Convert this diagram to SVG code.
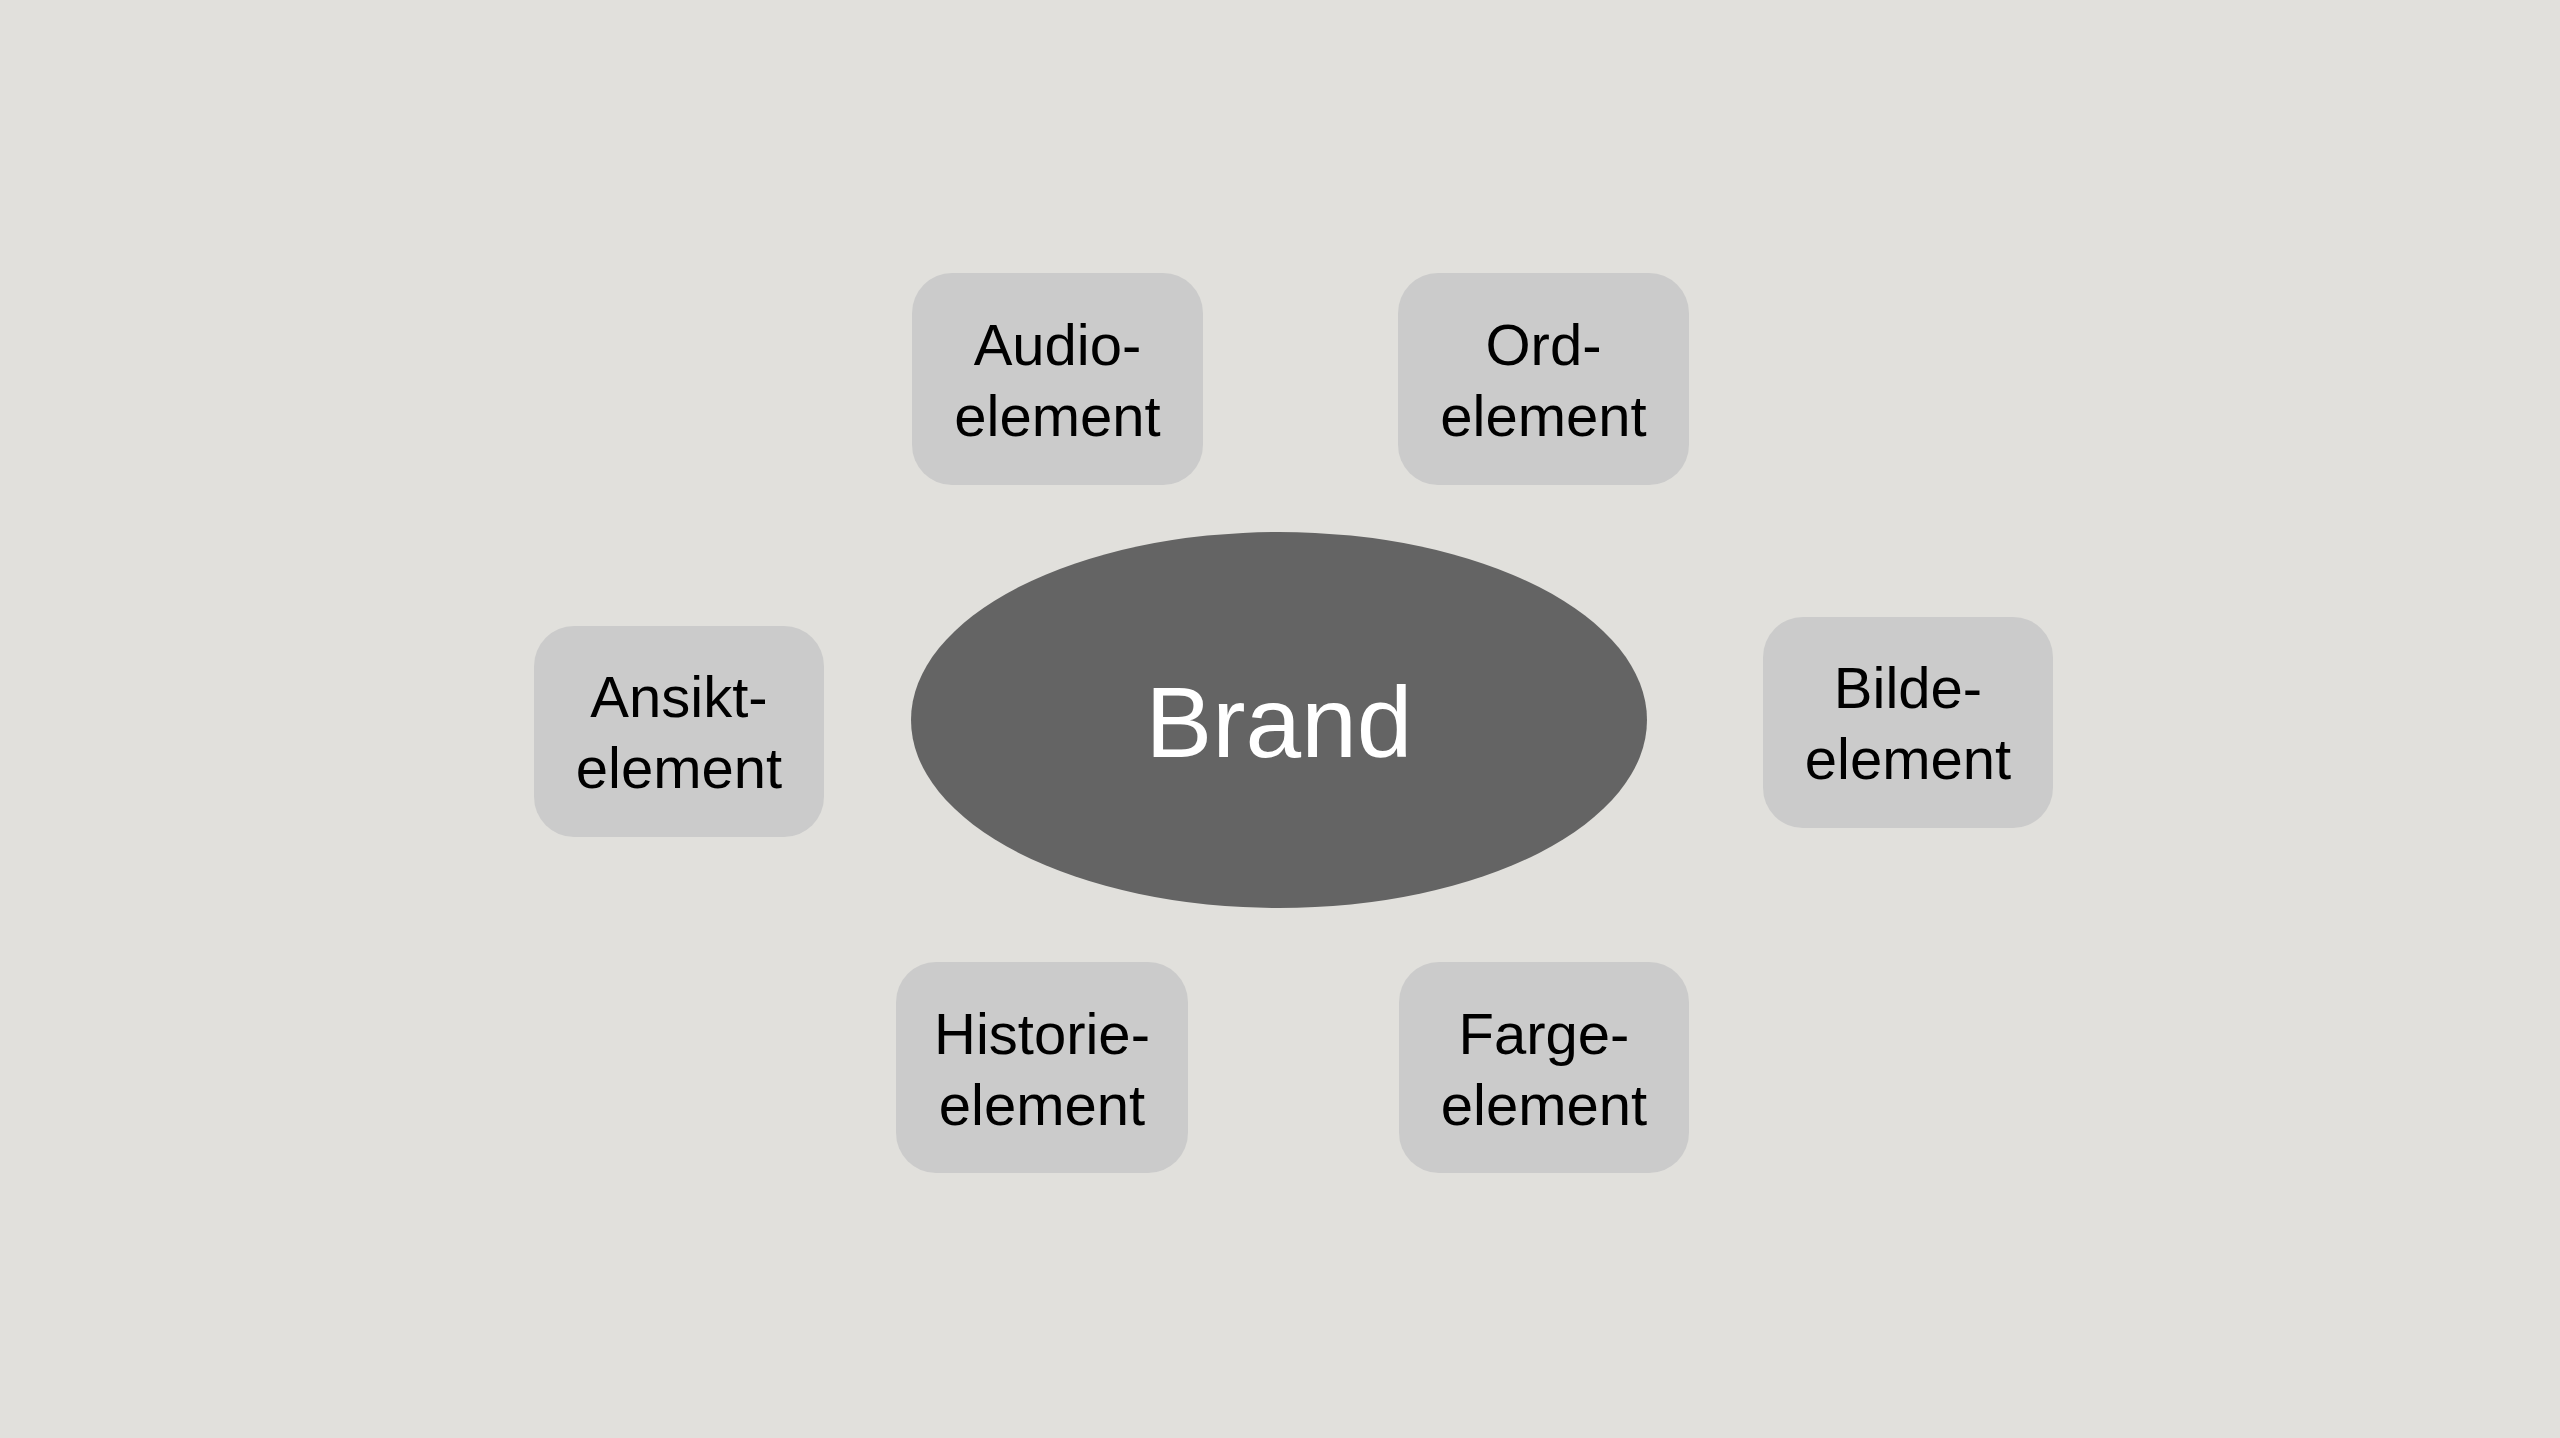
<svg xmlns="http://www.w3.org/2000/svg" width="2560" height="1438" viewBox="0 0 2560 1438">
<style>
.box{fill:#cbcbcb}
.lbl{font-family:"Liberation Sans",Arial,Helvetica,sans-serif;font-size:58px;fill:#000;text-anchor:middle}
.brand{font-family:"Liberation Sans",Arial,Helvetica,sans-serif;font-size:100px;fill:#fff;text-anchor:middle}
</style>
<rect width="2560" height="1438" fill="#e1e0dc"/>
<g id="connectors"></g>
<g id="brand">
<ellipse cx="1279" cy="720" rx="368" ry="188" fill="#646464"/>
<text class="brand" x="1279" y="757">Brand</text>
</g>
<g id="audio">
<rect class="box" x="912" y="273" width="291" height="212" rx="40"/>
<text class="lbl" x="1057.5" y="365">Audio-</text>
<text class="lbl" x="1057.5" y="436">element</text>
</g>
<g id="ord">
<rect class="box" x="1398" y="273" width="291" height="212" rx="40"/>
<text class="lbl" x="1543.5" y="365">Ord-</text>
<text class="lbl" x="1543.5" y="436">element</text>
</g>
<g id="ansikt">
<rect class="box" x="534" y="626" width="290" height="211" rx="40"/>
<text class="lbl" x="679" y="717">Ansikt-</text>
<text class="lbl" x="679" y="788">element</text>
</g>
<g id="bilde">
<rect class="box" x="1763" y="617" width="290" height="211" rx="40"/>
<text class="lbl" x="1908" y="708">Bilde-</text>
<text class="lbl" x="1908" y="779">element</text>
</g>
<g id="historie">
<rect class="box" x="896" y="962" width="292" height="211" rx="40"/>
<text class="lbl" x="1042" y="1054">Historie-</text>
<text class="lbl" x="1042" y="1125">element</text>
</g>
<g id="farge">
<rect class="box" x="1399" y="962" width="290" height="211" rx="40"/>
<text class="lbl" x="1544" y="1054">Farge-</text>
<text class="lbl" x="1544" y="1125">element</text>
</g>
</svg>
